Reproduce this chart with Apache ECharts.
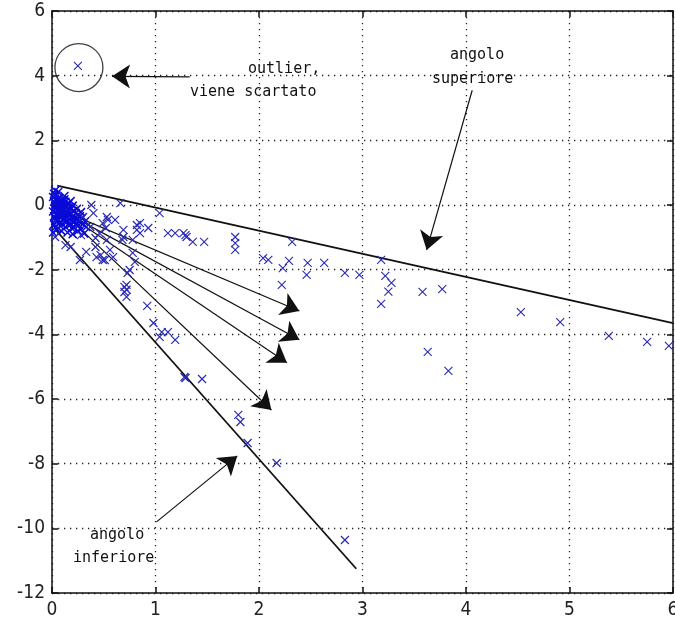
<!DOCTYPE html>
<html>
<head>
<meta charset="utf-8">
<script src="https://cdn.jsdelivr.net/npm/echarts@6/dist/echarts.min.js"></script>
<style>
  html, body { margin: 0; padding: 0; background: #fff; }
  #chart { width: 675px; height: 626px; }
</style>
</head>
<body>
<div id="chart"></div>
<script>
// measured points (x, y)
const clusterPts = [
  [0.01,0.25],[0.02,0.1],[0.03,-0.05],[0.01,-0.2],[0.02,-0.35],[0.04,0.3],[0.05,0.15],[0.06,0.0],
  [0.05,-0.15],[0.06,-0.3],[0.04,-0.45],[0.07,0.22],[0.08,0.08],[0.09,-0.08],[0.08,-0.22],[0.09,-0.38],
  [0.07,-0.55],[0.1,0.15],[0.11,0.02],[0.12,-0.12],[0.11,-0.28],[0.12,-0.42],[0.1,-0.6],[0.13,0.1],
  [0.14,-0.05],[0.15,-0.2],[0.14,-0.35],[0.15,-0.5],[0.13,-0.68],[0.16,0.05],[0.17,-0.1],[0.18,-0.27],
  [0.17,-0.45],[0.18,-0.6],[0.2,-0.02],[0.21,-0.18],[0.2,-0.35],[0.22,-0.52],[0.21,-0.7],[0.24,-0.12],
  [0.25,-0.3],[0.24,-0.45],[0.26,-0.62],[0.25,-0.8],[0.28,-0.22],[0.29,-0.4],[0.3,-0.58],[0.28,-0.75],
  [0.32,-0.5],[0.33,-0.68],[0.31,-0.88],[0.02,-0.6],[0.01,-0.85],[0.03,0.45],[0.06,0.4],[0.12,0.28],
  [0.18,0.12],[0.05,-0.75],[0.09,-0.8],[0.15,-0.85],[0.2,-0.9],
  [0.02,0.35],[0.03,0.18],[0.04,0.02],[0.03,-0.12],[0.04,-0.28],[0.03,-0.4],[0.05,-0.52],[0.03,-0.7],
  [0.07,0.12],[0.08,-0.02],[0.07,-0.15],[0.07,-0.32],[0.06,-0.45],[0.08,-0.65],[0.1,0.05],[0.1,-0.18],
  [0.1,-0.32],[0.11,-0.48],[0.12,0.18],[0.13,-0.02],[0.13,-0.22],[0.13,-0.38],[0.16,-0.15],[0.16,-0.32],
  [0.16,-0.6],[0.19,-0.1],[0.19,-0.42],[0.19,-0.72],[0.23,-0.25],[0.23,-0.6],[0.27,-0.5],[0.27,-0.35]
];
const nearPts = [
  [0.38,0.0],[0.3,-0.37],[0.54,-0.46],[0.61,-0.46],[0.53,-0.37],[0.49,-0.56],[0.52,-0.71],[0.66,0.06],
  [0.40,-0.25],[0.37,-0.68],[0.46,-0.87],[0.53,-1.08],[0.69,-0.77],[0.69,-0.99],[0.68,-1.08],[0.78,-1.08],
  [0.85,-0.56],[0.82,-0.77],[0.93,-0.71],[0.85,-0.87],[0.82,-0.62],
  [0.13,-1.24],[0.18,-1.30],[0.33,-1.45],[0.42,-1.30],[0.47,-1.55],[0.03,-0.99],[0.28,-0.93],[0.42,-1.02],
  [0.27,-1.70],[0.43,-1.61],[0.49,-1.70],[0.56,-1.39],[0.51,-1.70],[0.59,-1.61],[0.78,-1.48],[0.80,-1.76],
  [0.75,-2.01],[0.70,-2.53],[0.73,-2.10],[0.72,-2.47],[0.70,-2.69],[0.72,-2.62],[0.72,-2.84],[0.92,-3.12],
  [0.98,-3.65],[1.04,-4.08],[1.06,-3.93],[1.12,-3.93],[1.19,-4.17],[1.28,-5.32],[1.29,-5.35],[1.45,-5.38],
  [1.80,-6.49],[1.82,-6.71],[1.89,-7.36],[2.17,-7.98],[2.83,-10.36]
];
const farPts = [
  [1.04,-0.25],[1.12,-0.87],[1.19,-0.87],[1.27,-0.87],[1.30,-0.99],[1.29,-0.93],[1.36,-1.14],[1.47,-1.14],
  [1.77,-0.99],[1.77,-1.18],[1.77,-1.39],[2.32,-1.14],[2.04,-1.64],[2.09,-1.70],[2.23,-1.95],[2.29,-1.73],
  [2.22,-2.47],[2.47,-1.79],[2.63,-1.79],[2.46,-2.16],[2.83,-2.10],[2.97,-2.16],[3.18,-1.70],[3.22,-2.19],
  [3.28,-2.41],[3.25,-2.68],[3.18,-3.06],[3.58,-2.69],[3.77,-2.60],[3.63,-4.54],[3.83,-5.13],[4.53,-3.31],
  [4.91,-3.62],[5.38,-4.05],[5.75,-4.23],[5.96,-4.36]
];
const outlierPt = [[0.25, 4.30]];
const outlierRing = [[0.26, 4.25]];

// line segments
const boundLines = [
  [[0.05, 0.6], [6, -3.65]],
  [[0.03, -0.75], [2.94, -11.25]]
];
const fanArrows = [
  [[0.08, -0.15], [2.39, -3.28]],
  [[0.08, -0.15], [2.39, -4.17]],
  [[0.08, -0.15], [2.27, -4.88]],
  [[0.08, -0.15], [2.12, -6.34]]
];
const noteArrows = [
  [[1.33, 3.96], [0.58, 3.98]],
  [[4.06, 3.55], [3.62, -1.39]],
  [[1.01, -9.80], [1.79, -7.76]]
];

const xTicks = [0, 6, 1];
const yTicks = [-12, 6, 2];

const tickFont = '"DejaVu Sans Condensed", "DejaVu Sans", sans-serif';
const noteFont = '"DejaVu Sans Mono", monospace';
const markColor = '#2a2ab4';
const blobColor = '#0a0ad8';
const crossPath = 'path://M0,0L10,10M10,0L0,10';

const chart = echarts.init(document.getElementById('chart'));

function axisBase(pos, range, showLabel) {
  return {
    type: 'value',
    position: pos,
    min: range[0], max: range[1], interval: range[2],
    axisLine: { show: true, onZero: false, lineStyle: { color: '#111', width: 1.5 } },
    axisTick: { show: true, inside: true, length: 6, lineStyle: { color: '#111', width: 1.5 } },
    axisLabel: {
      show: showLabel, color: '#222', fontFamily: tickFont, fontSize: 19,
      margin: (pos === 'bottom') ? 8 : 7
    },
    splitLine: {
      show: showLabel,
      lineStyle: { color: '#222', width: 1.3, type: [1.3, 4.7] }
    }
  };
}

function segs(list) {
  return list.map(s => ({ coords: s }));
}

function crossSeries(data, color, w) {
  return {
    type: 'scatter',
    data: data,
    symbol: crossPath,
    symbolSize: 8,
    silent: true,
    itemStyle: { color: 'none', borderColor: color, borderWidth: w, opacity: 1 }
  };
}

chart.setOption({
  animation: false,
  backgroundColor: '#fff',
  grid: { left: 52, right: 2, top: 11, bottom: 33, outerBoundsMode: 'none', containLabel: false },
  xAxis: [axisBase('bottom', xTicks, true), axisBase('top', xTicks, false)],
  yAxis: [axisBase('left', yTicks, true), axisBase('right', yTicks, false)],
  series: [
    crossSeries(clusterPts, blobColor, 1.5),
    crossSeries(nearPts, markColor, 1.2),
    crossSeries(farPts, markColor, 1.1),
    crossSeries(outlierPt, markColor, 1.1),
    {
      type: 'scatter',
      data: outlierRing,
      symbol: 'circle',
      symbolSize: 48,
      silent: true,
      itemStyle: { color: 'none', borderColor: '#111', borderWidth: 1.3 }
    },
    {
      type: 'lines',
      coordinateSystem: 'cartesian2d',
      data: segs(boundLines),
      symbol: 'none',
      silent: true,
      lineStyle: { color: '#111', width: 1.8, opacity: 1 }
    },
    {
      type: 'lines',
      coordinateSystem: 'cartesian2d',
      data: segs(fanArrows),
      symbol: ['none', 'arrow'],
      symbolSize: 18,
      silent: true,
      lineStyle: { color: '#111', width: 1.2, opacity: 1 }
    },
    {
      type: 'lines',
      coordinateSystem: 'cartesian2d',
      data: segs(noteArrows),
      symbol: ['none', 'arrow'],
      symbolSize: 18,
      silent: true,
      lineStyle: { color: '#111', width: 1.2, opacity: 1 }
    }
  ],
  graphic: [
    { type: 'text', left: 248, top: 62, style: { text: 'outlier,', font: '15px ' + noteFont, fill: '#111' } },
    { type: 'text', left: 190, top: 85, style: { text: 'viene scartato', font: '15px ' + noteFont, fill: '#111' } },
    { type: 'text', left: 450, top: 48, style: { text: 'angolo', font: '15px ' + noteFont, fill: '#111' } },
    { type: 'text', left: 432, top: 72, style: { text: 'superiore', font: '15px ' + noteFont, fill: '#111' } },
    { type: 'text', left: 90, top: 528, style: { text: 'angolo', font: '15px ' + noteFont, fill: '#111' } },
    { type: 'text', left: 73, top: 551, style: { text: 'inferiore', font: '15px ' + noteFont, fill: '#111' } }
  ]
});
</script>
</body>
</html>
